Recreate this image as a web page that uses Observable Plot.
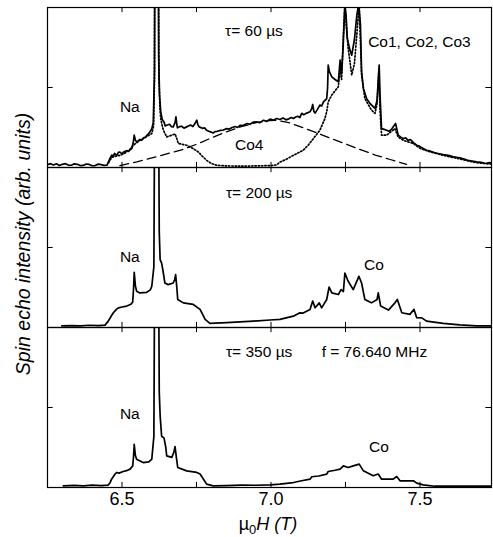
<!DOCTYPE html>
<html>
<head>
<meta charset="utf-8">
<script src="https://cdn.jsdelivr.net/npm/d3@7"></script>
<script src="https://cdn.jsdelivr.net/npm/@observablehq/plot@0.6"></script>
<style>
  html, body { margin: 0; padding: 0; background: #fff; }
  #chart { width: 493px; height: 537px; }
</style>
</head>
<body>
<div id="chart"></div>
<script>
// ---- data ----
const panels = ["60", "200", "350"];

// tau = 60 µs, measured spectrum
const tau60 = [[6.247,1.5],[6.26,2.4],[6.27,1.6],[6.28,2.3],[6.29,1.2],[6.30,2],[6.31,2.4],[6.32,1.5],[6.33,1.4],[6.34,2.3],[6.35,2],[6.36,1.2],[6.37,1.3],[6.38,2.2],[6.39,1.9],[6.40,1.1],[6.41,1.2],[6.42,2.1],[6.43,1.8],[6.44,1.3],[6.45,1.5],[6.458,5],[6.466,7.8],[6.470,6.6],[6.475,8.8],[6.482,7.5],[6.488,9.5],[6.493,9.7],[6.50,8.4],[6.505,9.6],[6.515,10.5],[6.522,10],[6.527,11],[6.533,11.8],[6.538,16],[6.541,20.2],[6.545,17],[6.549,16],[6.555,16.8],[6.56,17.5],[6.566,17],[6.572,18.5],[6.578,18.8],[6.583,20],[6.593,22],[6.600,24.3],[6.605,28],[6.609,60],[6.611,200],[6.621,200],[6.623,70],[6.626,45],[6.630,34.8],[6.635,30],[6.641,28.5],[6.645,26],[6.650,26.4],[6.66,27],[6.666,25.5],[6.672,25.4],[6.678,28],[6.681,31.7],[6.684,27],[6.686,24.8],[6.693,25.5],[6.70,25.8],[6.708,24.6],[6.717,25.4],[6.73,26.5],[6.738,25.6],[6.745,27.5],[6.751,29.6],[6.755,26.5],[6.759,25.4],[6.770,24.5],[6.777,24.8],[6.784,23.3],[6.795,22.4],[6.806,21.6],[6.812,22.4],[6.818,22.5],[6.830,23.2],[6.840,23.4],[6.851,24.3],[6.86,24],[6.87,25],[6.88,25.6],[6.888,25],[6.896,26.4],[6.905,26.2],[6.92,27.5],[6.93,27],[6.94,28.4],[6.952,28.5],[6.962,28],[6.975,29.5],[6.985,28.8],[6.997,30.2],[7.008,29.6],[7.019,30.6],[7.03,30],[7.04,31],[7.05,29.8],[7.06,30.4],[7.068,31.2],[7.075,30.6],[7.083,31.6],[7.09,32],[7.097,31.2],[7.103,33.9],[7.11,33],[7.12,34],[7.131,34.8],[7.137,37],[7.140,39.4],[7.144,35],[7.148,34],[7.155,36],[7.164,39],[7.17,38.4],[7.176,41],[7.187,43.1],[7.190,50],[7.192,64],[7.196,60],[7.204,56.7],[7.215,55],[7.226,53.6],[7.232,67.1],[7.237,58.9],[7.242,75],[7.248,102],[7.252,95],[7.256,80.8],[7.264,74],[7.271,70.2],[7.280,80],[7.288,95],[7.294,102],[7.300,90],[7.304,60],[7.310,49.4],[7.321,43],[7.332,40.1],[7.349,36.9],[7.356,42],[7.360,55],[7.363,64],[7.366,45],[7.371,24.3],[7.380,23.8],[7.388,23.3],[7.396,22.6],[7.405,24],[7.418,27.5],[7.427,20.2],[7.436,19],[7.444,18],[7.452,18.6],[7.46,17],[7.468,17.4],[7.478,15.5],[7.489,13.9],[7.497,13.4],[7.505,12.5],[7.514,11.6],[7.522,10.8],[7.535,10.2],[7.55,9.2],[7.565,8.6],[7.578,8.0],[7.595,7.6],[7.61,6.8],[7.622,6.4],[7.634,6],[7.648,5.2],[7.66,4.5],[7.675,4],[7.69,3.5],[7.705,3.2],[7.72,2.5],[7.733,3],[7.745,2.5]];

// tau = 60 µs, Co1+Co2+Co3 component (dotted)
const tau60Fit = [[6.455,3],[6.466,6.5],[6.482,7.2],[6.493,7.6],[6.51,9],[6.527,11.5],[6.538,13.9],[6.549,15.5],[6.560,17],[6.58,19],[6.600,21.2],[6.606,26],[6.609,55],[6.611,200],[6.621,200],[6.624,55],[6.628,35],[6.630,30.6],[6.635,26],[6.639,23.3],[6.650,19.1],[6.667,20.2],[6.678,21],[6.684,18],[6.689,15],[6.717,13.9],[6.739,11.8],[6.756,9.7],[6.770,7],[6.784,4.5],[6.80,2.5],[6.818,1.4],[6.85,1],[6.9,0.8],[6.95,1],[7.0,1.2],[7.019,1.6],[7.030,3.4],[7.05,5],[7.075,7.6],[7.09,9],[7.108,10.8],[7.125,14],[7.142,18],[7.164,23.3],[7.181,30.6],[7.187,35],[7.192,41],[7.204,45.3],[7.226,50.5],[7.232,61.8],[7.237,55],[7.243,83],[7.248,102],[7.252,90],[7.259,74.5],[7.271,57.8],[7.28,65],[7.288,83],[7.296,102],[7.300,80],[7.304,57.8],[7.315,43.1],[7.337,35.9],[7.349,33.8],[7.356,40],[7.362,59.9],[7.366,35],[7.371,20.2],[7.388,20.2],[7.416,24.3],[7.427,19],[7.444,17],[7.46,16],[7.478,15],[7.50,12],[7.53,10],[7.58,7.5],[7.63,5.5],[7.69,3],[7.745,2]];

// tau = 60 µs, Co4 component (dashed)
const tau60Co4 = [[6.493,1.2],[6.55,3.5],[6.62,7],[6.70,11],[6.75,14.5],[6.80,18.5],[6.85,22.3],[6.90,25.5],[6.95,28],[6.99,29.3],[7.02,29.5],[7.06,28],[7.10,25.4],[7.15,22],[7.20,18.2],[7.25,14.8],[7.30,11.2],[7.35,7.8],[7.40,5],[7.455,2]];

// tau = 200 µs
const tau200 = [[6.298,1],[6.33,1.2],[6.36,1],[6.39,1.4],[6.42,1.2],[6.443,1.5],[6.454,4],[6.465,7.5],[6.471,9.2],[6.482,11.5],[6.488,12.3],[6.50,12.8],[6.516,13.4],[6.53,14.5],[6.536,16],[6.539,25],[6.541,34.5],[6.545,26],[6.549,22.7],[6.560,21.6],[6.583,22],[6.595,23.5],[6.600,25.8],[6.607,38],[6.611,200],[6.621,200],[6.625,60],[6.628,42.4],[6.633,40.2],[6.638,35],[6.644,27.8],[6.655,26.8],[6.672,27.8],[6.677,30],[6.680,33],[6.684,25],[6.687,17.5],[6.706,15.4],[6.739,14.4],[6.762,11.3],[6.779,5.1],[6.795,2.6],[6.851,3],[6.941,4],[6.997,4.7],[7.03,5.1],[7.075,7.1],[7.097,9.2],[7.108,9],[7.131,11.3],[7.140,16.5],[7.148,12.3],[7.162,15.4],[7.170,12.3],[7.187,17.5],[7.195,25.3],[7.204,21.6],[7.226,20.6],[7.235,23.7],[7.243,22.5],[7.248,34],[7.259,28.9],[7.276,23.7],[7.295,32],[7.304,27.8],[7.315,17.5],[7.337,15.4],[7.356,17.5],[7.360,21.6],[7.368,13.4],[7.394,10.9],[7.416,15.4],[7.424,17.5],[7.439,9.2],[7.466,8.2],[7.480,11.3],[7.489,6.1],[7.506,6],[7.522,4],[7.578,2.6],[7.634,1.6],[7.690,1],[7.745,1]];

// tau = 350 µs
const tau350 = [[6.303,1],[6.34,1.3],[6.37,1],[6.40,1.5],[6.43,1.2],[6.454,1.5],[6.460,3],[6.465,5.2],[6.475,8],[6.482,9.4],[6.49,9],[6.504,10],[6.515,10.5],[6.527,11.5],[6.536,13.5],[6.539,20],[6.541,27],[6.545,20],[6.549,17.7],[6.571,15.6],[6.590,16],[6.600,17.7],[6.607,32],[6.611,200],[6.621,200],[6.625,60],[6.628,44.8],[6.633,32],[6.641,31],[6.647,25],[6.650,19.8],[6.667,18.8],[6.674,22],[6.678,25.6],[6.683,18],[6.687,12.5],[6.717,10.4],[6.751,9.4],[6.762,8.4],[6.774,5],[6.784,2.1],[6.806,1],[6.85,1.2],[6.9,1.5],[6.95,1.4],[6.997,1.6],[7.03,2.1],[7.075,3.1],[7.103,4.2],[7.131,5.2],[7.137,6.7],[7.16,7.2],[7.187,8.4],[7.192,10],[7.215,10.8],[7.232,11.5],[7.243,13.5],[7.259,12.5],[7.276,13.5],[7.296,14.6],[7.310,10.4],[7.343,7.3],[7.360,8.4],[7.371,5.2],[7.410,5.2],[7.422,6.9],[7.433,4.2],[7.478,4.2],[7.489,2.7],[7.511,1.6],[7.55,0.8],[7.745,0.8]];

// annotations
const annotPanel = ["60", "60", "60", "60", "200", "200", "200", "350", "350", "350", "350"];
const annotX = [6.846, 7.326, 6.493, 6.879, 6.849, 6.493, 7.312, 6.849, 7.170, 6.493, 7.329];
const annotY = [85, 78.7, 38, 14.1, 84.2, 44.1, 38.8, 84.7, 84.7, 45.7, 25.4];
const annotText = ["τ= 60 µs", "Co1, Co2, Co3", "Na", "Co4", "τ= 200 µs", "Na", "Co", "τ= 350 µs", "f = 76.640 MHz", "Na", "Co"];

// axis ticks
const xMinorTicks = [6.5, 6.75, 7.0, 7.25, 7.5];
const xTickLabels = [6.5, 7.0, 7.5];
const yTicks = [50];

// ---- build tables ----
const toRows = (arr, panel) => arr.map(([x, y]) => ({x, y, panel}));
const solid = [...toRows(tau60, "60"), ...toRows(tau200, "200"), ...toRows(tau350, "350")];
const dotted = toRows(tau60Fit, "60");
const dashed = toRows(tau60Co4, "60");
const annots = annotText.map((t, i) => ({text: t, x: annotX[i], y: annotY[i], panel: annotPanel[i]}));

const X0 = 6.25, X1 = 7.74;
const font = "'Liberation Sans', Arial, Helvetica, sans-serif";

const plot = Plot.plot({
  width: 493,
  height: 537,
  marginLeft: 47,
  marginRight: 2,
  marginTop: 6,
  marginBottom: 50,
  style: {fontFamily: font, background: "#fff", color: "black"},
  x: {domain: [X0, X1]},
  y: {domain: [0, 100], axis: null},
  fy: {domain: panels, axis: null, padding: 0},
  marks: [
    Plot.line(dashed, {x: "x", y: "y", fy: "panel", stroke: "black", strokeWidth: 1.3, strokeDasharray: "9,5", clip: true}),
    Plot.line(dotted, {x: "x", y: "y", fy: "panel", stroke: "black", strokeWidth: 1.7, strokeDasharray: "1.3,2", clip: true}),
    Plot.line(solid, {x: "x", y: "y", fy: "panel", stroke: "black", strokeWidth: 1.7, clip: true}),
    Plot.text(annots, {x: "x", y: "y", fy: "panel", text: "text", textAnchor: "start", fontSize: 15.5, fill: "black"}),
    Plot.ruleX(xMinorTicks, {x: d => d, y1: 0, y2: 3.2, stroke: "black", strokeWidth: 1}),
    Plot.ruleX(xMinorTicks, {x: d => d, y1: 96.8, y2: 100, stroke: "black", strokeWidth: 1}),
    Plot.ruleY(yTicks, {y: d => d, x1: X0, x2: X0 + 0.019, stroke: "black", strokeWidth: 1}),
    Plot.ruleY(yTicks, {y: d => d, x1: X1 - 0.019, x2: X1, stroke: "black", strokeWidth: 1}),
    Plot.frame({stroke: "black", strokeWidth: 1.2}),
    Plot.axisX({anchor: "bottom", ticks: xTickLabels, tickFormat: d => d.toFixed(1), tickSize: 0, tickPadding: 5, fontSize: 18, label: null})
  ]
});

document.getElementById("chart").appendChild(plot);

// axis titles (real text, with subscript / italics)
const svg = d3.select(plot);
const xl = svg.append("text")
  .attr("x", 268).attr("y", 530)
  .attr("text-anchor", "middle")
  .attr("font-family", font)
  .attr("font-size", 18)
  .attr("fill", "black");
xl.append("tspan").text("µ");
xl.append("tspan").attr("font-size", 13).attr("dy", 4).text("0");
xl.append("tspan").attr("dy", -4).attr("font-style", "italic").text("H (T)");

svg.append("text")
  .attr("transform", "translate(30,244) rotate(-90)")
  .attr("text-anchor", "middle")
  .attr("font-family", font)
  .attr("font-style", "italic")
  .attr("font-size", 19.5)
  .attr("fill", "black")
  .text("Spin echo intensity (arb. units)");
</script>
</body>
</html>
